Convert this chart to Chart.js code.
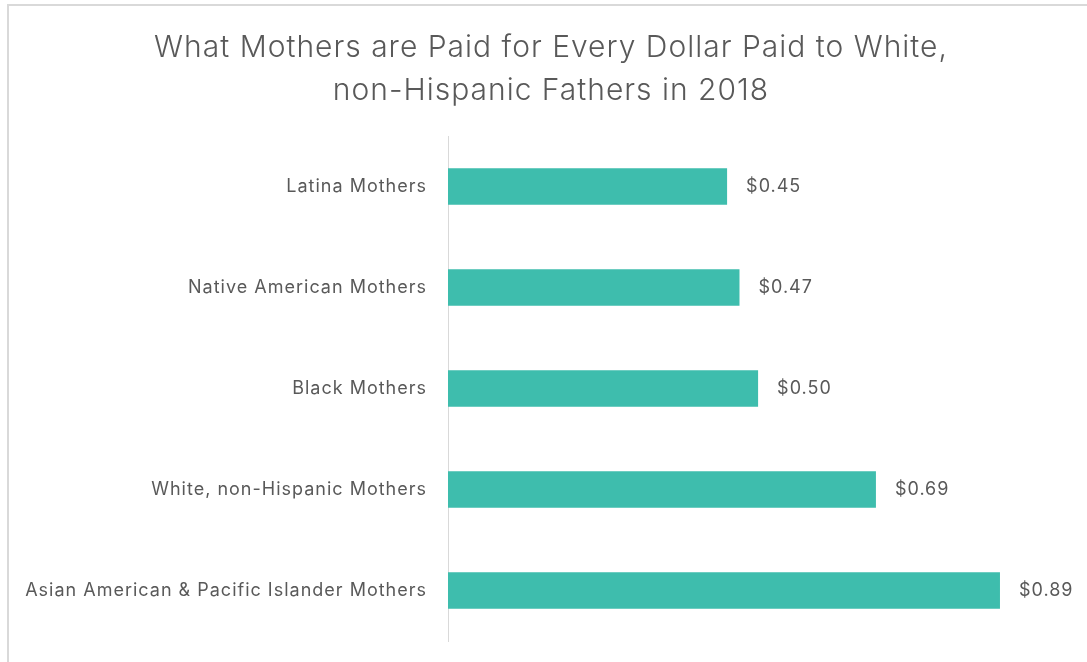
<!DOCTYPE html>
<html>
<head>
<meta charset="utf-8">
<script src="https://cdn.jsdelivr.net/npm/chart.js@4/dist/chart.umd.min.js"></script>
<style>
  html, body { margin: 0; padding: 0; background: #fff; overflow: hidden; }
  #frame {
    position: absolute; left: 7px; top: 4px;
    width: 1088px; height: 670px;
    border: 2px solid #d9d9d9; box-sizing: border-box;
  }
  #chart { position: absolute; left: 0; top: 0; }
</style>
</head>
<body>
<div id="frame"><canvas id="chart" width="1084" height="656"></canvas></div>
<script>
const categories = [
  'Latina Mothers',
  'Native American Mothers',
  'Black Mothers',
  'White, non-Hispanic Mothers',
  'Asian American & Pacific Islander Mothers',
];
const payPerDollar = [0.45, 0.47, 0.50, 0.69, 0.89];
const titleLines = [
  'What Mothers are Paid for Every Dollar Paid to White,',
  'non-Hispanic Fathers in 2018',
];

const FONT = 'Inter, "Open Sans", sans-serif';
const TEXT = '#595959';

// the reference text is tracked a little wider than Inter
const tracking = {
  id: 'tracking',
  beforeDraw(chart) {
    chart.ctx.letterSpacing = '1px';
  },
};

// draws the "$0.45" style labels right of each bar
const valueLabels = {
  id: 'valueLabels',
  afterDatasetsDraw(chart) {
    const ctx = chart.ctx;
    const meta = chart.getDatasetMeta(0);
    ctx.save();
    ctx.font = `18px ${FONT}`;
    ctx.fillStyle = TEXT;
    ctx.textAlign = 'left';
    ctx.textBaseline = 'middle';
    meta.data.forEach((bar, i) => {
      ctx.fillText('$' + payPerDollar[i].toFixed(2), bar.x + 19, bar.y);
    });
    ctx.restore();
  },
};

new Chart(document.getElementById('chart'), {
  type: 'bar',
  data: {
    labels: categories,
    datasets: [{
      data: payPerDollar,
      backgroundColor: '#3ebdad',
      borderWidth: 0,
      barPercentage: 0.36,
      categoryPercentage: 1,
    }],
  },
  options: {
    indexAxis: 'y',
    responsive: false,
    animation: false,
    layout: { padding: { left: 0, right: 0, top: 0, bottom: 21 } },
    plugins: {
      legend: { display: false },
      tooltip: { enabled: false },
      title: {
        display: true,
        text: titleLines,
        color: TEXT,
        font: { family: FONT, size: 30, weight: '300', lineHeight: 1.45 },
        padding: { top: 20, bottom: 23 },
      },
    },
    scales: {
      x: {
        display: false,
        min: 0,
        max: 1.04,
      },
      y: {
        // gap between labels and axis comes from an invisible tick length,
        // ticks.padding would also pad the chart area top and bottom
        grid: { display: false, drawTicks: true, tickLength: 21 },
        border: { color: '#d9d9d9', width: 1 },
        ticks: {
          color: TEXT,
          font: { family: FONT, size: 18 },
          padding: 0,
        },
        afterFit(scale) { scale.width = 439; },
      },
    },
  },
  plugins: [tracking, valueLabels],
});
</script>
</body>
</html>
